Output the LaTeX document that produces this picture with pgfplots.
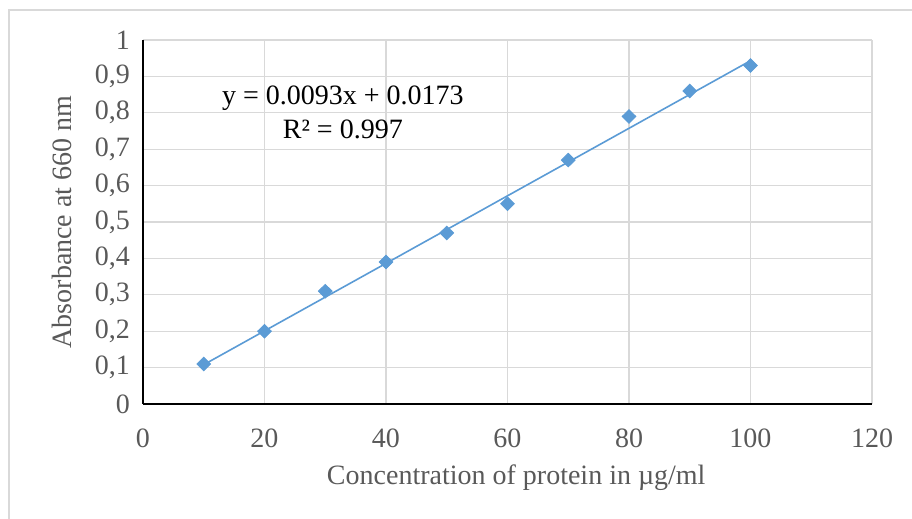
\documentclass[border=0pt]{standalone}
\usepackage{fontspec}
\setmainfont{Liberation Serif}
\usepackage{pgfplots}
\pgfplotsset{compat=1.18}

\definecolor{excelblue}{HTML}{5B9BD5}
\definecolor{labelgray}{HTML}{595959}
\definecolor{gridgray}{HTML}{D9D9D9}

\newcommand{\chartfont}{\fontsize{14pt}{16pt}\selectfont}

\begin{document}
\begin{tikzpicture}
    % picture = 912x519 px at 0.5pt per px
    \useasboundingbox (0,0) rectangle (456pt,259.5pt);
    \draw[gridgray, line width=0.8pt] (4.5pt,-2pt) -- (4.5pt,254.5pt) -- (460pt,254.5pt);
    \begin{axis}[
            at={(71.5pt,57.5pt)}, anchor=south west,
            scale only axis,
            width=364.5pt, height=182pt,
            xmin=0, xmax=120, ymin=0, ymax=1,
            xtick={0,20,...,120},
            ytick={0,0.1,...,1.0},
            axis x line=bottom, axis y line=left,
            axis line style={-, black, line width=0.9pt},
            grid=major,
            major grid style={gridgray, line width=0.6pt},
            major tick length=0pt,
            /pgf/number format/assume math mode=true,
            yticklabel style={/pgf/number format/fixed, /pgf/number format/precision=1,
                    /pgf/number format/use comma, xshift=-3pt},
            ticklabel style={font=\chartfont, text=labelgray},
            xticklabel style={yshift=-9pt},
            label style={font=\chartfont, text=labelgray},
            xlabel={Concentration of protein in µg/ml},
            ylabel={Absorbance at 660 nm},
            xlabel style={at={(axis description cs:0.512,-0.203)}, anchor=center},
            ylabel style={at={(axis description cs:-0.111,0.5)}, anchor=center},
            clip=false,
        ]
        % linear trendline
        \addplot[excelblue, line width=0.8pt] coordinates {
                (10, 0.108) (100, 0.943)
            };
        \addplot[only marks, mark=diamond*, mark size=3.4pt,
            mark options={xscale=1.35}, excelblue] coordinates {
                (10, 0.11) (20, 0.20) (30, 0.31) (40, 0.39) (50, 0.47)
                (60, 0.55) (70, 0.67) (80, 0.79) (90, 0.86) (100, 0.93)
            };
        \node[font=\chartfont, anchor=center] at (axis cs:32.9,0.841) {y = 0.0093x + 0.0173};
        \node[font=\chartfont, anchor=center] at (axis cs:32.9,0.755) {R² = 0.997};
    \end{axis}
\end{tikzpicture}
\end{document}
